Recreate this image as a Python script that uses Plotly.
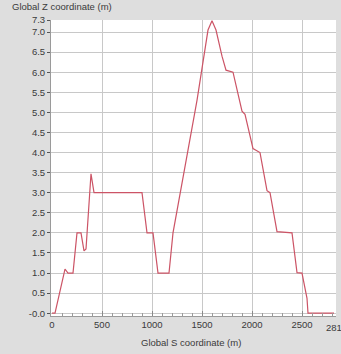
import plotly.graph_objects as go

# Longitudinal profile: station along the alignment vs. elevation
s_coord = [0, 30, 130, 160, 210, 250, 290, 320, 340, 390, 420, 900, 950, 1010,
           1060, 1170, 1210, 1450, 1560, 1600, 1640, 1700, 1740, 1810, 1900,
           1930, 2010, 2080, 2150, 2180, 2250, 2400, 2450, 2500, 2550, 2560, 2820]
z_coord = [0.0, 0.0, 1.1, 1.0, 1.0, 2.0, 2.0, 1.55, 1.6, 3.47, 3.0, 3.0, 2.0, 2.0,
           1.0, 1.0, 2.0, 5.3, 7.05, 7.28, 7.05, 6.4, 6.05, 6.0, 5.03,
           4.95, 4.1, 4.0, 3.05, 3.0, 2.03, 2.0, 1.01, 1.0, 0.37, 0.0, 0.0]

x_tick_vals = [0, 500, 1000, 1500, 2000, 2500]
x_tick_text = ["0", "500", "1000", "1500", "2000", "2500"]
x_end_value = 2840
x_end_text = "2810"
y_tick_vals = [0, 0.5, 1.0, 1.5, 2.0, 2.5, 3.0, 3.5, 4.0, 4.5, 5.0, 5.5, 6.0, 6.5, 7.0, 7.3]
y_tick_text = ["-0.0", "0.5", "1.0", "1.5", "2.0", "2.5", "3.0", "3.5", "4.0",
               "4.5", "5.0", "5.5", "6.0", "6.5", "7.0", "7.3"]

FONT = "Liberation Sans"
TXT = "#3a3a3a"
FS = 9.5

fig = go.Figure()
fig.add_trace(go.Scatter(
    x=s_coord, y=z_coord, mode="lines",
    line=dict(color="#cc5466", width=1.2),
    hoverinfo="skip", showlegend=False,
))

fig.update_layout(
    width=341, height=354,
    margin=dict(l=51, r=5, t=20, b=38),
    paper_bgcolor="#dedede",
    plot_bgcolor="#ffffff",
    font=dict(family=FONT, size=FS, color=TXT),
    xaxis=dict(
        range=[-10, x_end_value],
        tickvals=x_tick_vals, ticktext=x_tick_text,
        showgrid=True, gridcolor="#c8c8c8", gridwidth=1,
        ticks="inside", ticklen=5, tickcolor="#8a8a8a",
        minor=dict(ticks="inside", dtick=100, tick0=0, ticklen=3,
                   tickcolor="#9a9a9a", showgrid=False),
        showline=True, linecolor="#9a9a9a", linewidth=1,
        zeroline=False, fixedrange=True,
        tickfont=dict(size=FS, color=TXT),
    ),
    yaxis=dict(
        range=[-0.07, 7.3],
        tickvals=y_tick_vals, ticktext=y_tick_text,
        showgrid=True, gridcolor="#c8c8c8", gridwidth=1,
        ticks="outside", ticklen=3, tickcolor="#555555",
        showline=True, linecolor="#9a9a9a", linewidth=1,
        zeroline=False, fixedrange=True,
        tickfont=dict(size=FS, color=TXT),
    ),
    annotations=[
        dict(text="Global Z coordinate (m)", xref="paper", yref="paper",
             x=-0.145, y=1.0, yshift=14, xanchor="left", yanchor="middle",
             showarrow=False, font=dict(size=FS, color=TXT)),
        dict(text="Global S coordinate (m)", xref="paper", yref="paper",
             x=0.49, y=0, yshift=-26, xanchor="center", yanchor="middle",
             showarrow=False, font=dict(size=FS, color=TXT)),
        # label at the far end of the S axis
        dict(text=x_end_text, xref="x", yref="paper",
             x=x_end_value, y=0, yshift=-11, xanchor="center", yanchor="middle",
             showarrow=False, font=dict(size=FS, color=TXT)),
    ],
)

fig.write_html("out.html")
